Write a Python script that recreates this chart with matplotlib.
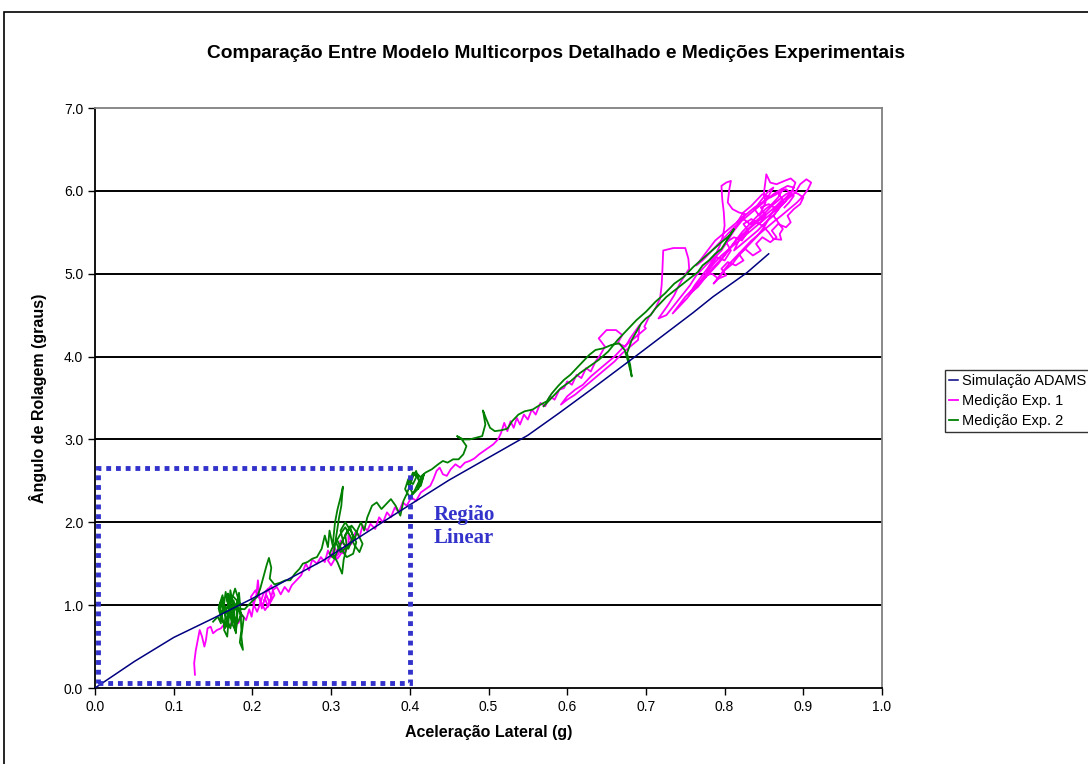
import matplotlib.pyplot as plt
from matplotlib.patches import Rectangle

# simulated line (ADAMS)
sim_x = [0.0, 0.05, 0.10, 0.15, 0.20, 0.29, 0.375, 0.45, 0.50, 0.55, 0.59, 0.633, 0.692, 0.76, 0.785, 0.828, 0.856]
sim_y = [0.0, 0.32, 0.61, 0.84, 1.08, 1.54, 2.06, 2.51, 2.78, 3.05, 3.32, 3.62, 4.04, 4.53, 4.72, 5.01, 5.24]

# Medição Exp. 1 (magenta trace)
exp1_x = [0.127, 0.126, 0.128, 0.131, 0.133, 0.136, 0.139, 0.141, 0.143, 0.147, 0.150, 0.155, 0.160, 0.165,
          0.170, 0.176, 0.182, 0.187, 0.192, 0.196, 0.199, 0.202, 0.205, 0.207, 0.209, 0.212,
          0.216, 0.220, 0.224, 0.220, 0.214, 0.210, 0.206, 0.202, 0.198, 0.204, 0.210, 0.216, 0.222, 0.228,
          0.224, 0.218,
          0.215, 0.218, 0.222, 0.226, 0.231, 0.236, 0.241, 0.246, 0.250, 0.256, 0.262, 0.268, 0.272, 0.276,
          0.282, 0.287, 0.292, 0.296, 0.300, 0.304, 0.309, 0.312, 0.318,
          0.314, 0.308, 0.302, 0.296, 0.300, 0.306, 0.312, 0.318, 0.324, 0.330, 0.326, 0.320, 0.314, 0.310,
          0.316, 0.322,
          0.322, 0.326, 0.331, 0.336, 0.340, 0.346, 0.350,
          0.356, 0.361, 0.366, 0.371, 0.376, 0.381, 0.386, 0.391, 0.396, 0.402, 0.408, 0.414, 0.420, 0.426,
          0.430, 0.434, 0.438, 0.442, 0.447, 0.452, 0.458, 0.464, 0.470, 0.476, 0.482, 0.488, 0.494, 0.500,
          0.506, 0.512, 0.516, 0.520, 0.524, 0.528, 0.532, 0.536, 0.540, 0.545, 0.550, 0.555, 0.560, 0.566,
          0.572, 0.578, 0.584, 0.590, 0.596, 0.600,
          0.606, 0.612, 0.618, 0.624, 0.630, 0.636, 0.642, 0.648, 0.640, 0.650, 0.662, 0.670, 0.664, 0.674,
          0.680, 0.686, 0.692,
          0.690, 0.680, 0.670, 0.660, 0.650, 0.640, 0.630, 0.620, 0.610, 0.600, 0.592, 0.600, 0.610, 0.620,
          0.630, 0.640, 0.650, 0.660, 0.670, 0.680, 0.690, 0.700,
          0.698, 0.704, 0.712, 0.718, 0.720, 0.721, 0.722, 0.735, 0.750, 0.754, 0.755,
          0.748, 0.742, 0.736, 0.728, 0.722, 0.716, 0.726, 0.736, 0.746, 0.756, 0.764, 0.772, 0.780, 0.788,
          0.794, 0.798, 0.800, 0.799, 0.797, 0.796, 0.802, 0.808, 0.806, 0.804, 0.810, 0.818, 0.826, 0.820,
          0.812, 0.804, 0.796, 0.786, 0.778, 0.770, 0.762, 0.756, 0.766, 0.776, 0.786, 0.796, 0.806, 0.814,
          0.822, 0.830, 0.838, 0.846, 0.852, 0.850, 0.852, 0.853, 0.858, 0.866, 0.876, 0.884, 0.890, 0.886,
          0.878, 0.870, 0.862, 0.856, 0.850, 0.842, 0.834, 0.826, 0.818, 0.810, 0.800, 0.792, 0.786, 0.794,
          0.804, 0.814, 0.824, 0.834, 0.844, 0.854, 0.864, 0.872, 0.882, 0.892, 0.900, 0.906, 0.910, 0.904,
          0.896, 0.890, 0.880, 0.870, 0.862, 0.868, 0.874, 0.870, 0.872, 0.862, 0.856, 0.848, 0.840, 0.832,
          0.824, 0.816, 0.824, 0.834, 0.842, 0.848, 0.858, 0.866, 0.874, 0.868, 0.860, 0.852, 0.844, 0.838,
          0.846, 0.856, 0.862,
          0.856, 0.848, 0.838, 0.828, 0.818, 0.808, 0.798, 0.788, 0.780, 0.772, 0.764, 0.772, 0.782, 0.792,
          0.802, 0.812, 0.822, 0.832, 0.842, 0.852, 0.862, 0.872, 0.880, 0.888, 0.884, 0.876, 0.866, 0.856,
          0.846, 0.836, 0.826, 0.816, 0.806, 0.796, 0.786, 0.778, 0.770, 0.760, 0.750, 0.742, 0.734, 0.742,
          0.752, 0.762, 0.772, 0.782, 0.792, 0.800, 0.808, 0.816, 0.826, 0.836, 0.846, 0.856, 0.866, 0.874,
          0.870, 0.862, 0.852, 0.842, 0.832, 0.822, 0.812, 0.818, 0.828, 0.838, 0.850, 0.860, 0.870, 0.878,
          0.886, 0.894, 0.900,
          0.896, 0.888, 0.880, 0.884, 0.878, 0.868, 0.860, 0.866, 0.858, 0.848, 0.840, 0.846, 0.836, 0.826,
          0.818, 0.824, 0.814, 0.804, 0.796, 0.802, 0.792, 0.784, 0.776, 0.782, 0.790, 0.800, 0.808, 0.802,
          0.812, 0.822, 0.830, 0.824, 0.834, 0.844, 0.852, 0.846, 0.856, 0.866, 0.874, 0.868, 0.878, 0.888,
          0.882, 0.876]
exp1_y = [0.16, 0.30, 0.45, 0.60, 0.70, 0.62, 0.50, 0.58, 0.72, 0.74, 0.66, 0.70, 0.72, 0.78,
          0.74, 0.82, 0.78, 0.88, 0.82, 0.95, 0.86, 1.02, 1.12, 1.30, 1.10, 0.96,
          1.08, 0.98, 1.10, 1.20, 1.14, 1.02, 0.92, 1.00, 1.10, 1.18, 1.06, 0.94, 1.02, 1.12,
          1.24, 1.16,
          1.05, 1.12, 1.02, 1.18, 1.22, 1.13, 1.22, 1.16, 1.24, 1.30, 1.36, 1.50, 1.42, 1.55,
          1.50, 1.58, 1.52, 1.66, 1.58, 1.70, 1.62, 1.78, 1.72,
          1.64, 1.56, 1.62, 1.54, 1.48, 1.58, 1.66, 1.64, 1.76, 1.84, 1.74, 1.70, 1.76, 1.68,
          1.62, 1.74,
          1.85, 1.76, 1.88, 1.82, 1.96, 1.90, 1.98,
          1.92, 2.06, 2.00, 2.12, 2.06, 2.18, 2.12, 2.24, 2.20, 2.30, 2.26, 2.36, 2.40, 2.44,
          2.52, 2.62, 2.66, 2.58, 2.56, 2.64, 2.70, 2.66, 2.72, 2.74, 2.77, 2.82, 2.86, 2.90,
          2.94, 3.00, 3.08, 3.20, 3.10, 3.22, 3.14, 3.26, 3.18, 3.30, 3.24, 3.36, 3.30, 3.44,
          3.40, 3.52, 3.48, 3.60, 3.62, 3.70,
          3.66, 3.78, 3.74, 3.86, 3.82, 3.94, 4.02, 4.12, 4.22, 4.32, 4.32, 4.26, 4.16, 4.12,
          4.22, 4.30, 4.38,
          4.20, 4.12, 4.04, 3.94, 3.86, 3.78, 3.70, 3.62, 3.54, 3.48, 3.42, 3.52, 3.60, 3.66,
          3.76, 3.84, 3.92, 4.00, 4.10, 4.18, 4.26, 4.34,
          4.36, 4.48, 4.58, 4.70, 4.86, 5.05, 5.28, 5.31, 5.31, 5.18, 5.06,
          4.96, 4.86, 4.74, 4.62, 4.54, 4.46, 4.50, 4.62, 4.74, 4.86, 4.98, 5.06, 5.14, 5.22,
          5.34, 5.46, 5.58, 5.74, 5.90, 6.06, 6.10, 6.12, 6.02, 5.86, 5.78, 5.74, 5.72, 5.62,
          5.52, 5.40, 5.28, 5.18, 5.06, 4.96, 4.86, 4.76, 4.84, 4.96, 5.08, 5.18, 5.30, 5.40,
          5.50, 5.58, 5.66, 5.74, 5.86, 5.98, 6.12, 6.20, 6.10, 6.08, 6.12, 6.15, 6.10, 6.00,
          5.92, 5.84, 5.76, 5.66, 5.56, 5.46, 5.38, 5.30, 5.22, 5.12, 5.04, 4.94, 4.88, 4.98,
          5.10, 5.20, 5.30, 5.40, 5.48, 5.56, 5.64, 5.70, 5.78, 5.86, 5.94, 6.02, 6.10, 6.14,
          6.08, 5.98, 5.90, 5.80, 5.70, 5.62, 5.54, 5.48, 5.41, 5.42, 5.50, 5.58, 5.62, 5.60,
          5.66, 5.62, 5.74, 5.82, 5.90, 5.96, 5.92, 5.96, 6.02, 5.92, 5.84, 5.78, 5.70, 5.78,
          5.88, 6.00, 6.04,
          5.94, 5.86, 5.80, 5.72, 5.64, 5.56, 5.48, 5.40, 5.30, 5.20, 5.10, 5.16, 5.26, 5.36,
          5.46, 5.56, 5.64, 5.72, 5.80, 5.88, 5.96, 6.02, 6.06, 6.04, 5.96, 5.86, 5.78, 5.70,
          5.62, 5.54, 5.46, 5.38, 5.30, 5.22, 5.12, 5.02, 4.92, 4.82, 4.72, 4.62, 4.52, 4.60,
          4.70, 4.82, 4.92, 5.02, 5.12, 5.22, 5.32, 5.42, 5.50, 5.58, 5.66, 5.74, 5.82, 5.90,
          5.80, 5.70, 5.62, 5.52, 5.44, 5.36, 5.28, 5.40, 5.52, 5.62, 5.72, 5.82, 5.90, 5.96,
          6.00, 5.96, 5.92,
          5.84, 5.78, 5.70, 5.62, 5.56, 5.60, 5.52, 5.44, 5.38, 5.44, 5.36, 5.28, 5.22, 5.30,
          5.24, 5.16, 5.10, 5.14, 5.06, 4.98, 4.94, 5.00, 4.98, 5.10, 5.20, 5.16, 5.28, 5.38,
          5.44, 5.40, 5.52, 5.60, 5.66, 5.60, 5.70, 5.80, 5.84, 5.78, 5.88, 5.98, 6.02, 5.94,
          5.86, 5.80]

# Medição Exp. 2 (green trace)
exp2_x = [0.150, 0.156, 0.160, 0.158, 0.162, 0.166, 0.164, 0.168, 0.170, 0.172, 0.175, 0.177, 0.179, 0.181,
          0.183, 0.185, 0.186, 0.184, 0.188, 0.186, 0.189, 0.180, 0.172, 0.168, 0.176, 0.184,
          0.158, 0.163, 0.161, 0.167, 0.171, 0.169, 0.174, 0.178, 0.176, 0.181, 0.179, 0.174, 0.170, 0.166,
          0.163, 0.167, 0.172, 0.177, 0.182, 0.178, 0.173, 0.169, 0.165, 0.161, 0.157, 0.160, 0.165, 0.170,
          0.175, 0.180, 0.185, 0.182, 0.177, 0.172, 0.168, 0.164,
          0.170, 0.180, 0.190, 0.195,
          0.200, 0.206, 0.210, 0.214, 0.218, 0.221, 0.224, 0.222, 0.228, 0.235, 0.242, 0.248, 0.254, 0.260,
          0.264, 0.270, 0.276, 0.282, 0.288, 0.292, 0.296, 0.298, 0.302, 0.305, 0.308, 0.312, 0.315, 0.313,
          0.310, 0.306, 0.303, 0.308, 0.314, 0.316, 0.320, 0.318, 0.324,
          0.328, 0.322, 0.316, 0.312, 0.318, 0.326, 0.332, 0.328, 0.320, 0.314, 0.308, 0.302, 0.298, 0.304,
          0.310, 0.318, 0.326, 0.334, 0.340, 0.336, 0.330, 0.324, 0.318, 0.312, 0.306, 0.312, 0.320, 0.328,
          0.330, 0.334, 0.338, 0.342, 0.346,
          0.352, 0.358, 0.364, 0.370, 0.376, 0.382, 0.388, 0.392, 0.396, 0.400, 0.404, 0.408, 0.412,
          0.406, 0.400, 0.394, 0.398, 0.404, 0.410, 0.416, 0.412, 0.404, 0.398, 0.404, 0.410, 0.414, 0.418,
          0.410, 0.415, 0.420, 0.428, 0.436, 0.442, 0.448, 0.455, 0.462, 0.468, 0.472, 0.466, 0.460, 0.468, 0.476,
          0.484, 0.492, 0.496, 0.493, 0.497, 0.502, 0.508, 0.516, 0.524, 0.530, 0.538, 0.546, 0.556, 0.566,
          0.574, 0.580, 0.588, 0.596, 0.604, 0.612, 0.620, 0.628, 0.636, 0.646, 0.656, 0.666, 0.673, 0.678,
          0.682, 0.680, 0.676, 0.682, 0.688, 0.694, 0.700, 0.706, 0.712, 0.720, 0.726, 0.734, 0.742, 0.750,
          0.758, 0.766, 0.772, 0.780, 0.788, 0.796, 0.804, 0.812, 0.806, 0.796, 0.784, 0.772, 0.760, 0.748,
          0.736, 0.724, 0.712, 0.700, 0.688, 0.676, 0.664, 0.652, 0.640, 0.628, 0.616, 0.604, 0.592, 0.580,
          0.570]
exp2_y = [0.80, 0.86, 0.78, 1.00, 1.12, 0.90, 0.70, 0.62, 0.84, 1.18, 1.02, 0.80, 0.66, 0.95,
          1.15, 0.92, 0.70, 0.55, 0.46, 0.62, 0.85, 0.98, 0.92, 1.06, 1.10, 1.02,
          0.92, 1.08, 0.82, 0.74, 0.98, 1.14, 0.88, 0.76, 1.06, 0.90, 0.68, 0.78, 0.96, 1.16,
          0.94, 0.84, 0.72, 0.94, 1.08, 1.20, 1.04, 0.86, 0.72, 0.88, 0.96, 1.04, 0.98, 0.86,
          0.92, 1.00, 0.88, 0.80, 0.86, 0.98, 0.90, 0.94,
          1.00, 0.96, 0.95, 1.00,
          1.05, 1.10, 1.20, 1.34, 1.48, 1.57, 1.45, 1.32, 1.25, 1.27, 1.30, 1.30, 1.38, 1.44,
          1.50, 1.52, 1.56, 1.58, 1.68, 1.84, 1.70, 1.90, 1.72, 2.00, 2.15, 2.30, 2.43, 2.20,
          2.05, 1.80, 1.60, 1.52, 1.38, 1.55, 1.70, 1.85, 1.95,
          1.82, 1.68, 1.74, 1.90, 2.00, 1.88, 1.76, 1.62, 1.58, 1.66, 1.78, 1.70, 1.62, 1.56,
          1.70, 1.84, 1.96, 1.86, 1.74, 1.64, 1.72, 1.84, 1.94, 1.86, 1.76, 1.64, 1.70, 1.80,
          1.80, 1.92, 2.00, 1.90, 2.06,
          2.20, 2.24, 2.16, 2.22, 2.28, 2.20, 2.08, 2.26, 2.34, 2.44, 2.55, 2.62, 2.50,
          2.38, 2.30, 2.40, 2.52, 2.46, 2.58, 2.52, 2.42, 2.34, 2.46, 2.60, 2.54, 2.44, 2.58,
          2.40, 2.56, 2.60, 2.64, 2.70, 2.74, 2.72, 2.76, 2.76, 2.82, 2.92, 3.00, 3.04, 3.00, 3.00,
          3.02, 3.04, 3.18, 3.35, 3.25, 3.14, 3.10, 3.11, 3.13, 3.22, 3.30, 3.34, 3.36, 3.42,
          3.46, 3.55, 3.64, 3.72, 3.78, 3.86, 3.94, 4.02, 4.08, 4.10, 4.14, 4.16, 4.08, 3.92,
          3.76, 3.90, 4.04, 4.20, 4.30, 4.40, 4.46, 4.50, 4.58, 4.66, 4.72, 4.78, 4.84, 4.90,
          4.96, 5.02, 5.10, 5.16, 5.24, 5.30, 5.42, 5.54, 5.46, 5.38, 5.28, 5.18, 5.08, 4.96,
          4.88, 4.76, 4.66, 4.54, 4.44, 4.32, 4.20, 4.06, 3.96, 3.88, 3.80, 3.70, 3.62, 3.50,
          3.40]

x_ticks = [0.0, 0.1, 0.2, 0.3, 0.4, 0.5, 0.6, 0.7, 0.8, 0.9, 1.0]
y_ticks = [0.0, 1.0, 2.0, 3.0, 4.0, 5.0, 6.0, 7.0]

plt.rcParams['font.family'] = ['Liberation Sans', 'DejaVu Sans']
fig = plt.figure(figsize=(10.88, 7.64), dpi=100)
ax = fig.add_axes([95/1088, 1-688/764, 787/1088, 580/764])

# outer chart border
fig.patches.append(Rectangle((4/1088, -0.01), 1.1, 1-12/764+0.01, transform=fig.transFigure,
                             fill=False, edgecolor='black', linewidth=1.2))

for v in y_ticks[1:-1]:
    ax.axhline(v, color='black', linewidth=1.4, zorder=1)

ax.plot(sim_x, sim_y, color='#000080', linewidth=1.1, label='Simulação ADAMS', zorder=3)
ax.plot(exp1_x, exp1_y, color='#FF00FF', linewidth=1.3, label='Medição Exp. 1', zorder=2)
ax.plot(exp2_x, exp2_y, color='#008000', linewidth=1.3, label='Medição Exp. 2', zorder=2.5)

ax.add_patch(Rectangle((0.004, 0.06), 0.396, 2.60, fill=False, edgecolor='#3333CC',
                       linewidth=3.5, linestyle=(0, (1, 1)), zorder=4))
ax.text(0.43, 1.95, 'Região\nLinear', family='Liberation Serif', fontweight='bold', fontsize=15,
        color='#3333CC', va='center', ha='left', linespacing=1.15)

ax.set_xlim(0, 1.0)
ax.set_ylim(0, 7.0)
ax.set_xticks(x_ticks)
ax.set_yticks(y_ticks)
ax.set_xticklabels(['%.1f' % v for v in x_ticks], fontsize=10)
ax.set_yticklabels(['%.1f' % v for v in y_ticks], fontsize=10)
ax.tick_params(direction='out', length=5, width=1)
ax.spines['top'].set_color('#808080')
ax.spines['right'].set_color('#808080')
for s in ax.spines.values():
    s.set_linewidth(1.3)

ax.set_xlabel('Aceleração Lateral (g)', fontsize=11.5, fontweight='bold', labelpad=8)
ax.set_ylabel('Ângulo de Rolagem (graus)', fontsize=11.5, fontweight='bold', labelpad=12)
fig.text(556/1088, 1-53/764, 'Comparação Entre Modelo Multicorpos Detalhado e Medições Experimentais',
         ha='center', va='center', fontsize=13.8, fontweight='bold')

fig.legend(loc='center left', bbox_to_anchor=(945/1088, 1-401/764), fontsize=10.5, frameon=True,
           fancybox=False, edgecolor='black', handlelength=0.6, handletextpad=0.3,
           borderpad=0.3, labelspacing=0.4, borderaxespad=0)

fig.savefig('out.png', dpi=100)
